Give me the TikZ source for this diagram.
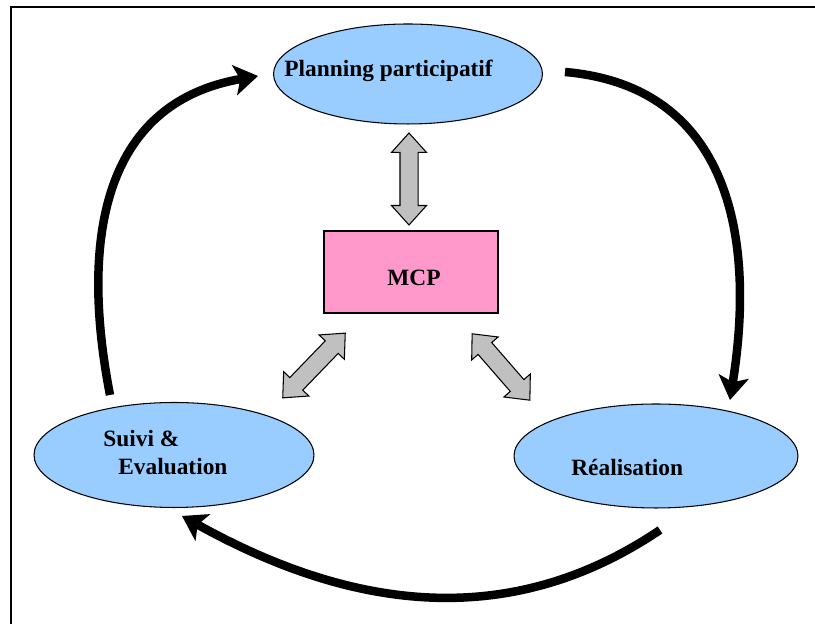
\documentclass[tikz,border=0pt]{standalone}
\usepackage{fontspec}
\setmainfont{Liberation Serif}
\usetikzlibrary{shapes.geometric,shapes.arrows,arrows.meta}
\definecolor{skyblue}{RGB}{153,204,255}
\definecolor{mcppink}{RGB}{255,153,204}
\definecolor{linkgray}{RGB}{192,192,192}

\begin{document}
\begin{tikzpicture}[x=0.02cm,y=0.02cm,
    phase/.style={ellipse,draw,fill=skyblue,line width=.6pt,inner sep=0pt},
    lbl/.style={font=\fontsize{13.3}{16}\selectfont\bfseries,inner sep=0pt},
    link/.style={double arrow,draw,fill=linkgray,line width=.6pt,inner xsep=0pt,inner ysep=.17cm,
      double arrow head extend=.17cm,double arrow tip angle=84},
    loopline/.style={line width=.17cm,-{Stealth[length=.48cm,width=.62cm,inset=.12cm,line width=0pt]}}]
  \useasboundingbox (0,0) rectangle (815,624);
  \draw[line width=.8pt] (11,0) -- (11,617) -- (815,617);
  % the three phases
  \node[phase,minimum width=5.38cm,minimum height=2cm] (plan) at (408,550) {};
  \node[lbl,anchor=base west] (plantxt) at (284,547) {Planning participatif};
  \node[phase,minimum width=5.6cm,minimum height=2.1cm] (suivi) at (174,169) {};
  \node[lbl,anchor=base west] (suivitxt) at (103,177) {Suivi \&};
  \node[lbl,anchor=base west] (evaltxt) at (118,149) {Evaluation};
  \node[phase,minimum width=5.68cm,minimum height=2.08cm] (real) at (656,168) {};
  \node[lbl,anchor=base west] (realtxt) at (571,148) {Réalisation};
  % MCP in the middle
  \node[draw,fill=mcppink,line width=.6pt,minimum width=3.48cm,minimum height=1.64cm] (mcp) at (411,352) {};
  \node[lbl,anchor=base] (mcptxt) at (414,338) {MCP};
  % exchanges with MCP
  \node[link,minimum height=1.84cm,rotate=90] (lnkup) at (409,445) {};
  \node[link,minimum height=1.8cm,rotate=46] (lnkleft) at (314,258.5) {};
  \node[link,minimum height=1.76cm,rotate=-49] (lnkright) at (501,257) {};
  % the cycle
  \coordinate (s1) at (110,229); \coordinate (e1) at (258,548);
  \coordinate (s2) at (565,552); \coordinate (e2) at (730,224);
  \coordinate (s3) at (660,94);  \coordinate (e3) at (182,108);
  \draw[loopline] (s1) to[out=101,in=190,looseness=1.15] (e1);
  \draw[loopline] (s2) to[out=-5,in=81,looseness=1.15] (e2);
  \draw[loopline] (s3) to[out=214,in=331] (e3);
\end{tikzpicture}
\end{document}
